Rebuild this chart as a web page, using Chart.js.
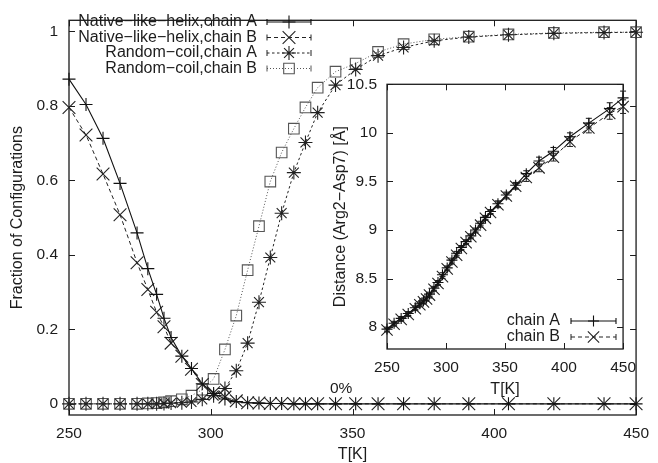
<!DOCTYPE html>
<html lang="en">
<head>
<meta charset="UTF-8">
<title>Helix and coil fractions vs temperature</title>
<style>
  body { margin: 0; background: #fff; }
  #wrap { position: relative; width: 658px; height: 463px; }
  #main { position: absolute; left: 0; top: 0; }
  #inset { position: absolute; left: 325px; top: 65px; }
</style>
</head>
<body>
<div id="wrap">
  <canvas id="main" width="658" height="463"></canvas>
  <canvas id="inset" width="320" height="335"></canvas>
</div>
<script src="https://cdn.jsdelivr.net/npm/chart.js@4"></script>
<script>
// replica temperatures (K)
const temps = [250, 256, 262, 268, 274, 277.8, 280.9, 283.5, 286, 289.8,
               293.2, 297, 301, 305, 309, 313, 317, 321, 325, 329.3,
               333.4, 337.7, 344, 351.1, 359, 368, 378.8, 391, 405, 421,
               438.7, 450];

// fraction of configurations
const helixA = [0.872, 0.804, 0.713, 0.592, 0.459, 0.363, 0.294, 0.230, 0.178, 0.128,
                0.095, 0.054, 0.028, 0.013, 0.006, 0.003, 0.002, 0.001, 0.001, 0,
                0, 0, 0, 0, 0, 0, 0, 0, 0, 0, 0, 0];
const helixB = [0.796, 0.722, 0.617, 0.508, 0.379, 0.307, 0.246, 0.207, 0.163, 0.128,
                0.093, 0.052, 0.030, 0.018, 0.008, 0.003, 0.002, 0.001, 0.001, 0,
                0, 0, 0, 0, 0, 0, 0, 0, 0, 0, 0, 0];
const coilA = [0, 0, 0, 0, 0, 0, 0, 0.001, 0.002, 0.003,
               0.005, 0.012, 0.022, 0.041, 0.089, 0.163, 0.273, 0.393, 0.512, 0.621,
               0.702, 0.782, 0.856, 0.898, 0.935, 0.957, 0.975, 0.985, 0.991, 0.995,
               0.997, 0.998];
const coilB = [0, 0, 0, 0, 0, 0.001, 0.002, 0.004, 0.007, 0.012,
               0.022, 0.038, 0.067, 0.146, 0.237, 0.359, 0.477, 0.597, 0.675, 0.739,
               0.796, 0.849, 0.892, 0.914, 0.945, 0.966, 0.979, 0.986, 0.992, 0.996,
               0.998, 0.998];

// Arg2-Asp7 distance (Angstrom) and its error
const distA = [7.98, 8.04, 8.09, 8.14, 8.20, 8.24, 8.27, 8.30, 8.34, 8.40,
               8.46, 8.54, 8.61, 8.69, 8.76, 8.82, 8.88, 8.94, 9.00, 9.07,
               9.13, 9.19, 9.27, 9.36, 9.46, 9.58, 9.71, 9.81, 9.96, 10.10,
               10.25, 10.36];
const distB = [7.97, 8.03, 8.08, 8.13, 8.19, 8.23, 8.26, 8.29, 8.33, 8.39,
               8.45, 8.52, 8.60, 8.67, 8.74, 8.81, 8.87, 8.93, 8.99, 9.05,
               9.12, 9.18, 9.26, 9.35, 9.45, 9.54, 9.64, 9.75, 9.91, 10.05,
               10.20, 10.27];
const errA = [0.02, 0.02, 0.02, 0.02, 0.02, 0.02, 0.02, 0.02, 0.02, 0.02,
              0.02, 0.02, 0.02, 0.02, 0.02, 0.02, 0.02, 0.02, 0.02, 0.02,
              0.02, 0.02, 0.03, 0.03, 0.03, 0.03, 0.04, 0.04, 0.04, 0.05,
              0.06, 0.07];
const errB = [0.02, 0.02, 0.02, 0.02, 0.02, 0.02, 0.02, 0.02, 0.02, 0.02,
              0.02, 0.02, 0.02, 0.02, 0.02, 0.02, 0.02, 0.02, 0.02, 0.02,
              0.02, 0.02, 0.03, 0.03, 0.03, 0.04, 0.04, 0.04, 0.05, 0.05,
              0.06, 0.07];

const seriesNames = ['Native\u2212like\u2212helix,chain A', 'Native\u2212like\u2212helix,chain B',
                     'Random\u2212coil,chain A', 'Random\u2212coil,chain B'];
const insetNames = ['chain A', 'chain B'];

const mainXTicks = [250, 300, 350, 400, 450];
const mainYTicks = [0, 0.2, 0.4, 0.6, 0.8, 1];
const insetXTicks = [250, 300, 350, 400, 450];
const insetYTicks = [8, 8.5, 9, 9.5, 10, 10.5];

const FONT = "'Liberation Sans', Arial, Helvetica, sans-serif";
const INK = '#1c1c1c';

const pts = vals => temps.map((t, i) => ({ x: t, y: vals[i] }));

// box with inward tick marks on all four sides, like gnuplot's border
const framePlugin = {
  id: 'frame',
  beforeDatasetsDraw(chart, args, opts) {
    const { ctx, chartArea: a, scales } = chart;
    const len = opts.tick;
    ctx.save();
    ctx.strokeStyle = INK;
    ctx.lineWidth = 1.3;
    ctx.strokeRect(a.left, a.top, a.right - a.left, a.bottom - a.top);
    ctx.lineWidth = 1;
    ctx.beginPath();
    scales.x.ticks.forEach(t => {
      const px = Math.round(scales.x.getPixelForValue(t.value)) + 0.5;
      ctx.moveTo(px, a.bottom); ctx.lineTo(px, a.bottom - len);
      ctx.moveTo(px, a.top); ctx.lineTo(px, a.top + len);
    });
    scales.y.ticks.forEach(t => {
      const py = Math.round(scales.y.getPixelForValue(t.value)) + 0.5;
      ctx.moveTo(a.left, py); ctx.lineTo(a.left + len, py);
      ctx.moveTo(a.right, py); ctx.lineTo(a.right - len, py);
    });
    ctx.stroke();
    ctx.restore();
  }
};

function drawMarker(ctx, ds, x, y) {
  ctx.save();
  ctx.setLineDash([]);
  ctx.strokeStyle = ds.pointBorderColor;
  ctx.fillStyle = 'rgba(0,0,0,0)';
  ctx.lineWidth = ds.pointBorderWidth;
  Chart.helpers.drawPoint(ctx, { pointStyle: ds.pointStyle, radius: ds.pointRadius, rotation: 0, borderWidth: ds.pointBorderWidth }, x, y);
  ctx.restore();
}

// key: right aligned text, then a sample line with end caps and the marker
const keyPlugin = {
  id: 'key',
  afterDraw(chart, args, opts) {
    const ctx = chart.ctx;
    ctx.save();
    ctx.font = opts.font;
    ctx.textAlign = 'right';
    ctx.textBaseline = 'middle';
    chart.data.datasets.forEach((ds, i) => {
      const y = opts.y + i * opts.dy;
      ctx.fillStyle = INK;
      ctx.fillText(ds.label, opts.textRight, y);
      ctx.strokeStyle = ds.borderColor;
      ctx.lineWidth = ds.borderWidth;
      ctx.setLineDash(ds.borderDash || []);
      ctx.beginPath();
      ctx.moveTo(opts.x0, y); ctx.lineTo(opts.x1, y);
      ctx.stroke();
      ctx.setLineDash([]);
      ctx.beginPath();
      ctx.moveTo(opts.x0, y - 3); ctx.lineTo(opts.x0, y + 3);
      ctx.moveTo(opts.x1, y - 3); ctx.lineTo(opts.x1, y + 3);
      ctx.stroke();
      drawMarker(ctx, ds, (opts.x0 + opts.x1) / 2, y);
    });
    ctx.restore();
  }
};

// vertical error bars with small caps
const errPlugin = {
  id: 'errbars',
  beforeDatasetsDraw(chart) {
    const { ctx, scales: { x, y } } = chart;
    chart.data.datasets.forEach(ds => {
      if (!ds.errors) return;
      ctx.save();
      ctx.strokeStyle = ds.borderColor;
      ctx.lineWidth = 1;
      ctx.beginPath();
      ds.data.forEach((p, i) => {
        const px = x.getPixelForValue(p.x);
        const lo = y.getPixelForValue(p.y - ds.errors[i]);
        const hi = y.getPixelForValue(p.y + ds.errors[i]);
        ctx.moveTo(px, lo); ctx.lineTo(px, hi);
        ctx.moveTo(px - 3, lo); ctx.lineTo(px + 3, lo);
        ctx.moveTo(px - 3, hi); ctx.lineTo(px + 3, hi);
      });
      ctx.stroke();
      ctx.restore();
    });
  }
};

// "0%" note on the main plot
const notePlugin = {
  id: 'note',
  afterDraw(chart, args, opts) {
    const { ctx, scales: { x, y } } = chart;
    ctx.save();
    ctx.font = '15.5px ' + FONT;
    ctx.fillStyle = INK;
    ctx.textAlign = 'center';
    ctx.textBaseline = 'middle';
    ctx.fillText(opts.text, x.getPixelForValue(opts.x), y.getPixelForValue(opts.y));
    ctx.restore();
  }
};

function line(label, data, style, radius, dash, color, width) {
  return {
    label, data,
    borderColor: color, borderWidth: width || 1, borderDash: dash,
    pointStyle: style, pointRadius: radius, pointHoverRadius: radius,
    pointBorderColor: color, pointBackgroundColor: 'rgba(0,0,0,0)', pointBorderWidth: 1.1,
    tension: 0, fill: false, clip: false
  };
}

function axis(ticks, min, max, title, tickPad, fmt, fit, titlePad) {
  return {
    type: 'linear', min, max,
    grid: { display: false, drawTicks: false },
    border: { display: false },
    afterBuildTicks: s => { s.ticks = ticks.map(v => ({ value: v })); },
    afterFit: fit,
    ticks: { color: INK, padding: tickPad, font: { family: FONT, size: 15.5, lineHeight: 1.2 },
             callback: fmt || (v => String(v)) },
    title: { display: true, text: title, color: INK, padding: titlePad,
             font: { family: FONT, size: 16, lineHeight: 1 } }
  };
}

new Chart(document.getElementById('main'), {
  type: 'line',
  data: {
    datasets: [
      line(seriesNames[0], pts(helixA), 'cross', 6.5, [], '#111', 1.1),
      line(seriesNames[1], pts(helixB), 'crossRot', 9, [4, 3], '#222'),
      line(seriesNames[2], pts(coilA), 'star', 7, [2.5, 2.5], '#222'),
      line(seriesNames[3], pts(coilB), 'rect', 7.5, [1, 2], '#555')
    ]
  },
  options: {
    responsive: false, animation: false,
    layout: { padding: { top: 10, right: 16, bottom: 0, left: 0 } },
    scales: {
      x: axis(mainXTicks, 250, 450, 'T[K]', 9, null, s => { s.height = 48; }, { top: 0, bottom: 0 }),
      y: axis(mainYTicks, -0.03, 1.03, 'Fraction of Configurations', 11, null, s => { s.width = 69; }, { top: 9.5, bottom: 0 })
    },
    plugins: {
      legend: { display: false }, tooltip: { enabled: false },
      frame: { tick: 6 },
      key: { font: '16px ' + FONT, textRight: 257, x0: 267, x1: 311, y: 22, dy: 15.5 },
      note: { text: '0%', x: 346, y: 0.04 }
    }
  },
  plugins: [framePlugin, keyPlugin, notePlugin]
});

const insetA = line(insetNames[0], pts(distA), 'cross', 5.5, [], '#111', 1.1);
insetA.errors = errA;
const insetB = line(insetNames[1], pts(distB), 'crossRot', 8, [4, 3], '#222');
insetB.errors = errB;

new Chart(document.getElementById('inset'), {
  type: 'line',
  data: { datasets: [insetA, insetB] },
  options: {
    responsive: false, animation: false,
    layout: { padding: { top: 12, right: 19, bottom: 0, left: 0 } },
    scales: {
      x: axis(insetXTicks, 250, 450, 'T[K]', 9, null, s => { s.height = 51; }, { top: 0, bottom: 2.5 }),
      y: axis(insetYTicks, 7.775, 10.5, 'Distance (Arg2\u2212Asp7) [\u00c5]', 10, null, s => { s.width = 62; }, { top: 7.5, bottom: 0 })
    },
    plugins: {
      legend: { display: false }, tooltip: { enabled: false },
      frame: { tick: 6 },
      key: { font: '16px ' + FONT, textRight: 235, x0: 246, x1: 291, y: 256, dy: 16 }
    }
  },
  plugins: [framePlugin, errPlugin, keyPlugin]
});
</script>
</body>
</html>
